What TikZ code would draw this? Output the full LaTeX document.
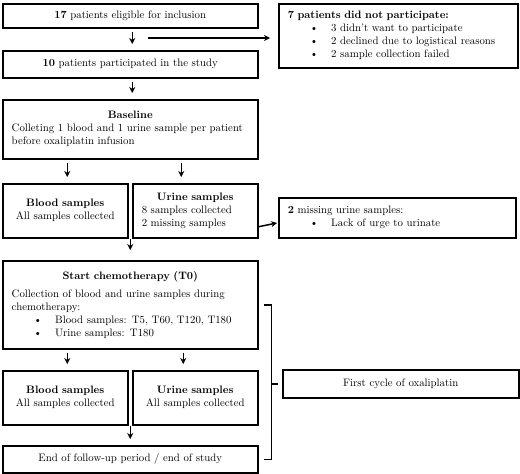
\documentclass[tikz,border=0pt]{standalone}
\usetikzlibrary{arrows.meta}

\newcommand{\bul}[1]{\hspace*{22pt}\textbullet\hspace{13pt}#1}

\begin{document}
\begin{tikzpicture}[x=1pt,y=-1pt,
  box/.style={draw=black, line width=1.5pt, rectangle, inner xsep=9pt, inner ysep=4pt,
    anchor=north west, font=\fontsize{10.8}{13}\selectfont},
  wide/.style={box, text width=237pt, minimum width=255pt},
  half/.style={box, text width=107pt, minimum width=125pt, minimum height=54pt},
  arr/.style={-{Stealth[length=6pt,width=6pt]}, line width=1.5pt,
    shorten <=3pt, shorten >=6pt}]
\useasboundingbox (0,0) rectangle (520,474);

    % Inclusion
\node[wide, minimum height=24pt, align=center] (elig) at (2,3)
  {\textbf{17} patients eligible for inclusion};
\node[box, text width=221pt, minimum width=239pt, minimum height=64pt, align=left] (notpart) at (278,3)
  {\textbf{7 patients did not participate:}\\
   \bul{3 didn't want to participate}\\
   \bul{2 declined due to logistical reasons}\\
   \bul{2 sample collection failed}};
\node[wide, minimum height=27pt, align=center] (part) at (2,50)
  {\textbf{10} patients participated in the study};

    % Baseline
\node[wide, minimum height=59pt, align=left] (base) at (2,99)
  {\makebox[\linewidth]{\textbf{Baseline}}\\
   Colleting 1 blood and 1 urine sample per patient\\
   before oxaliplatin infusion};
\node[half, align=center] (blood1) at (2,183)
  {\textbf{Blood samples}\\ All samples collected};
\node[half, align=left] (urine1) at (132,183)
  {\makebox[\linewidth]{\textbf{Urine samples}}\\ 8 samples collected\\ 2 missing samples};
\node[box, text width=219pt, minimum width=237pt, minimum height=40pt, align=left] (missing) at (278,197)
  {\textbf{2} missing urine samples:\\ \bul{Lack of urge to urinate}};

    % First cycle
\node[wide, minimum height=88pt, align=left] (chemo) at (2,260)
  {\makebox[\linewidth]{\textbf{Start chemotherapy (T0)}}\\[5pt]
   Collection of blood and urine samples during\\
   chemotherapy:\\
   \bul{Blood samples: T5, T60, T120, T180}\\
   \bul{Urine samples: T180}};
\node[half, align=center] (blood2) at (2,370)
  {\textbf{Blood samples}\\ All samples collected};
\node[half, align=center] (urine2) at (132,370)
  {\textbf{Urine samples}\\ All samples collected};
\node[wide, minimum height=27pt, align=center] (endnode) at (2,445)
  {End of follow-up period / end of study};
\node[box, text width=218pt, minimum width=236pt, minimum height=28pt, align=center] (cycle) at (282,369)
  {First cycle of oxaliplatin};

    % Arrows
\coordinate (split) at (148,38);
\coordinate (ua) at ([xshift=-14pt]urine1.north);
\coordinate (ub) at ([xshift=-12pt]urine2.north);
\draw[arr] ([xshift=2pt]elig.south) -- ([xshift=2pt]part.north);
\draw[arr, shorten <=0pt, shorten >=8pt] (split) -- (split -| notpart.west);
\draw[arr] ([xshift=2pt]part.south) -- ([xshift=2pt]base.north);
\draw[arr] ([xshift=2pt]blood1.north |- base.south) -- ([xshift=2pt]blood1.north);
\draw[arr] (ua |- base.south) -- (ua);
\draw[arr, shorten <=0pt, shorten >=1pt] ([yshift=-16pt]urine1.east) -- ([yshift=-5pt]missing.west);
\draw[arr, shorten <=0pt, shorten >=10pt] (chemo.north |- blood1.south) -- (chemo.north);
\draw[arr] ([xshift=2pt]blood2.north |- chemo.south) -- ([xshift=2pt]blood2.north);
\draw[arr] (ub |- chemo.south) -- (ub);
\draw[arr, shorten <=0pt] (endnode.north |- blood2.south) -- (endnode.north);

    % Bracket
\coordinate (brtop) at ([xshift=5pt]chemo.east);
\coordinate (brbot) at ([xshift=5pt]endnode.east);
\draw[line width=1.5pt] (brtop) -- ++(8,0) coordinate (brtr) -- (brtr |- brbot) -- (brbot);
\draw[line width=1.5pt] (brtr |- cycle.west) -- ([xshift=-4pt]cycle.west);

\end{tikzpicture}
\end{document}
